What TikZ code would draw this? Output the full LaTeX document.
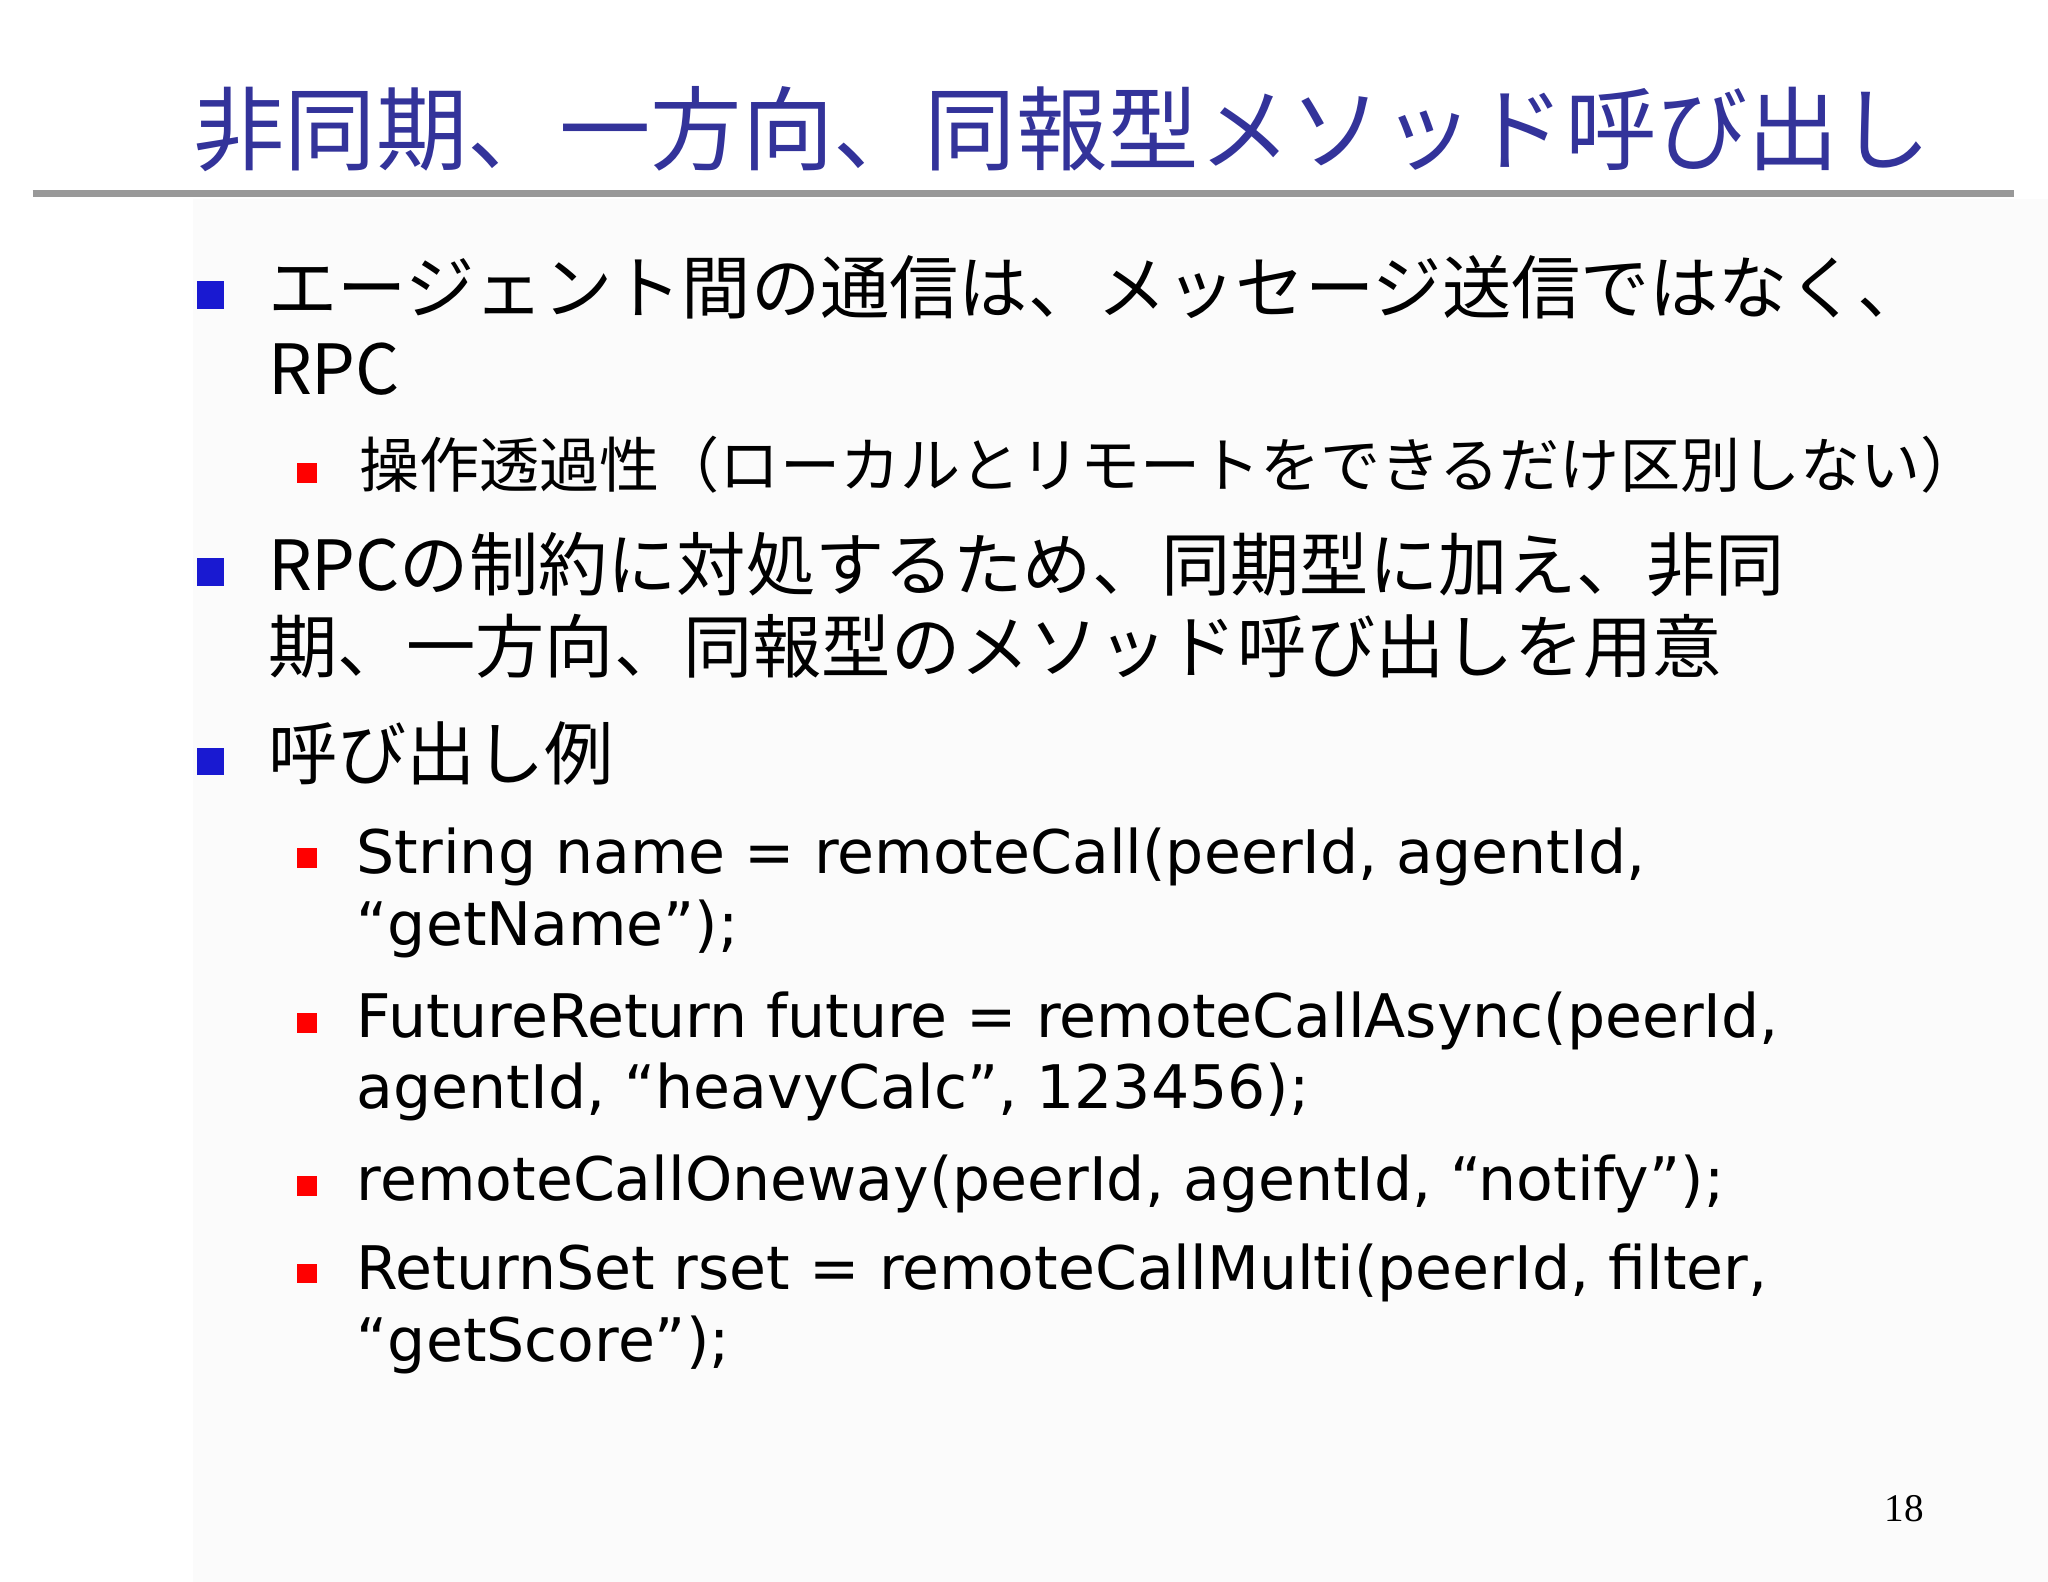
\documentclass[tikz,border=0pt]{standalone}
\usepackage{fontspec}
\setmainfont{DejaVu Sans}
\newfontfamily\jp{Noto Sans CJK JP}
\definecolor{titleblue}{HTML}{33339A}
\begin{document}
\begin{tikzpicture}[x=1pt,y=-1pt,
  t/.style={anchor=base west,inner sep=0pt,font=\jp\fontsize{53}{53}\selectfont},
  c/.style={anchor=base west,inner sep=0pt,font=\fontsize{46}{46}\selectfont},
  bb/.style={fill=blue!80!black!90,minimum size=21pt,inner sep=0pt},
  rb/.style={fill=red,minimum size=15pt,inner sep=0pt}]
\useasboundingbox (0,0) rectangle (1568,1211);
\fill[black!1.5] (148,152) rectangle (1568,1211);
\node[anchor=base west,inner sep=0pt,text=titleblue,font=\jp\fontsize{70}{70}\selectfont] (title) at (148,125) {非同期、一方向、同報型メソッド呼び出し};
\draw[line width=5pt,black!40] (25,148) -- (1542,148);
\node[bb] (b1) at (161,226) {};
\node[t] (l1) at (205,240) {エージェント間の通信は、メッセージ送信ではなく、};
\node[t] (l1b) at (205,302) {RPC};
\node[rb] (s1) at (235,362) {};
\node[t,font=\jp\fontsize{46}{46}\selectfont] (l2) at (275,373) {操作透過性（ローカルとリモートをできるだけ区別しない）};
\node[bb] (b2) at (161,438) {};
\node[t] (l3) at (205,452) {RPCの制約に対処するため、同期型に加え、非同};
\node[t] (l3b) at (205,515) {期、一方向、同報型のメソッド呼び出しを用意};
\node[bb] (b3) at (161,583) {};
\node[t] (l4) at (205,597) {呼び出し例};
\node[rb] (s2) at (235,657) {};
\node[c] (c1) at (273,669) {String name = remoteCall(peerId, agentId,};
\node[c] (c1b) at (273,724) {“getName”);};
\node[rb] (s3) at (235,783) {};
\node[c] (c2) at (273,794) {FutureReturn future = remoteCallAsync(peerId,};
\node[c] (c2b) at (273,849) {agentId, “heavyCalc”, 123456);};
\node[rb] (s4) at (235,908) {};
\node[c] (c3) at (273,919) {remoteCallOneway(peerId, agentId, “notify”);};
\node[rb] (s5) at (235,975) {};
\node[c] (c4) at (273,987) {ReturnSet rset = remoteCallMulti(peerId, filter,};
\node[c] (c4b) at (273,1042) {“getScore”);};
\node[anchor=base east,inner sep=0pt,font=\fontspec{Liberation Serif}\fontsize{30}{30}\selectfont] (pg) at (1473,1165) {18};
\end{tikzpicture}
\end{document}
